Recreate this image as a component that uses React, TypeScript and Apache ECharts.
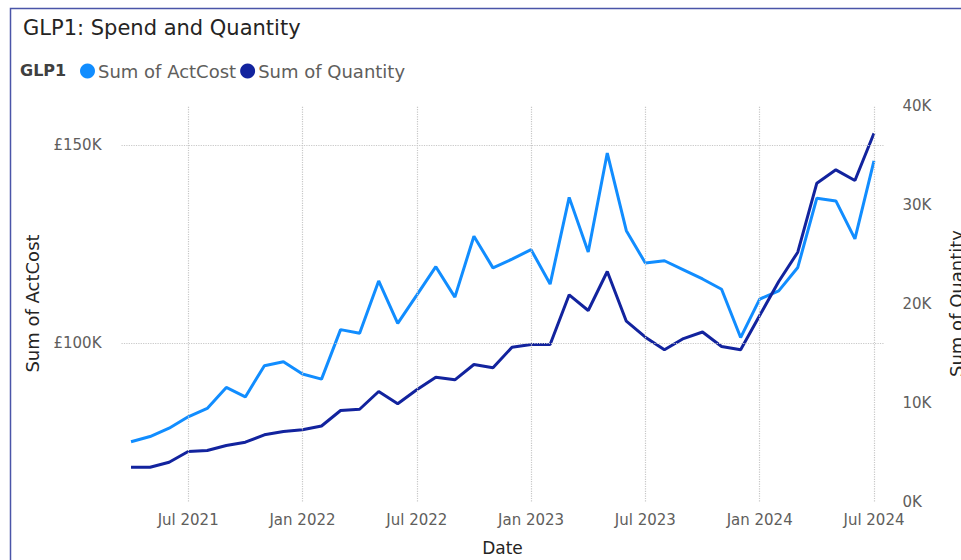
import React, { useEffect, useRef } from "react";
import * as echarts from "echarts";

const months = [
  "Apr 2021", "May 2021", "Jun 2021", "Jul 2021", "Aug 2021", "Sep 2021", "Oct 2021", "Nov 2021", "Dec 2021",
  "Jan 2022", "Feb 2022", "Mar 2022", "Apr 2022", "May 2022", "Jun 2022", "Jul 2022", "Aug 2022", "Sep 2022",
  "Oct 2022", "Nov 2022", "Dec 2022", "Jan 2023", "Feb 2023", "Mar 2023", "Apr 2023", "May 2023", "Jun 2023",
  "Jul 2023", "Aug 2023", "Sep 2023", "Oct 2023", "Nov 2023", "Dec 2023", "Jan 2024", "Feb 2024", "Mar 2024",
  "Apr 2024", "May 2024", "Jun 2024", "Jul 2024",
];

const actCost = [
  75100, 76400, 78500, 81400, 83500, 88800, 86400, 94300, 95300, 92200, 90900, 103400, 102500, 115700, 105000,
  112100, 119300, 111600, 127000, 119000, 121200, 123600, 114900, 136800, 123000, 148000, 128400, 120200, 120800,
  118500, 116200, 113600, 101400, 111100, 113200, 119100, 136600, 135900, 126300, 146000,
];

const quantity = [
  3460, 3460, 3970, 5050, 5150, 5660, 5990, 6740, 7070, 7240, 7630, 9190, 9320, 11110, 9870, 11280, 12560, 12290,
  13840, 13500, 15590, 15860, 15860, 20880, 19290, 23230, 18210, 16600, 15320, 16460, 17120, 15660, 15320, 18790,
  22220, 25180, 32150, 33500, 32420, 37200,
];

const verticalGridMonths = ["Jul 2021", "Jan 2022", "Jul 2022", "Jan 2023", "Jul 2023", "Jan 2024", "Jul 2024"];
const costGridValues = [100000, 150000];

const FONT = "DejaVu Sans";

export default function App() {
  const ref = useRef<HTMLDivElement>(null);

  useEffect(() => {
    if (!ref.current) return;
    const chart = echarts.init(ref.current, undefined, { renderer: "svg" });
    const gridStyle = { type: "dotted" as const, color: "#c8c8c8", width: 1.2 };
    chart.setOption({
      animation: false,
      backgroundColor: "#ffffff",
      title: {
        text: "GLP1: Spend and Quantity",
        left: 18,
        top: 12,
        textStyle: { fontFamily: FONT, fontSize: 21, fontWeight: "normal", color: "#252423" },
      },
      graphic: [
        {
          type: "rect",
          shape: { x: 10.5, y: 8.5, width: 1000, height: 700 },
          style: { fill: "none", stroke: "#4a55a8", lineWidth: 1.5 },
          silent: true,
        },
        {
          type: "text",
          x: 20,
          y: 70,
          style: {
            text: "GLP1",
            fontFamily: FONT,
            fontSize: 16,
            fontWeight: "bold",
            fill: "#404040",
            verticalAlign: "middle",
          },
        },
      ],
      legend: {
        data: ["Sum of ActCost", "Sum of Quantity"],
        left: 80,
        top: 62,
        padding: 0,
        icon: "circle",
        itemWidth: 15,
        itemHeight: 15,
        itemGap: 4,
        textStyle: { fontFamily: FONT, fontSize: 18, color: "#605e5c", padding: [0, 0, 0, -2] },
      },
      grid: { left: 121.5, width: 762, top: 105.5, height: 396, outerBoundsMode: "none", containLabel: false },
      xAxis: {
        type: "category",
        data: months,
        boundaryGap: true,
        name: "Date",
        nameLocation: "middle",
        nameGap: 38,
        nameTextStyle: { fontFamily: FONT, fontSize: 17, color: "#252423" },
        axisLine: { show: false },
        axisTick: { show: false },
        splitLine: { show: false },
        axisLabel: {
          interval: (_i: number, v: string) => v.startsWith("Jan") || v.startsWith("Jul"),
          fontFamily: FONT,
          fontSize: 15,
          color: "#605e5c",
          margin: 11,
        },
      },
      yAxis: [
        {
          type: "value",
          min: 60000,
          max: 160000,
          interval: 10000,
          name: "Sum of ActCost",
          nameLocation: "middle",
          nameGap: 80,
          nameTextStyle: { fontFamily: FONT, fontSize: 18, color: "#252423" },
          axisLine: { show: false },
          axisTick: { show: false },
          splitLine: { show: false },
          axisLabel: {
            formatter: (v: number) => (costGridValues.includes(v) ? "£" + v / 1000 + "K" : ""),
            fontFamily: FONT,
            fontSize: 15,
            color: "#605e5c",
            margin: 20,
          },
        },
        {
          type: "value",
          position: "right",
          min: 0,
          max: 40000,
          interval: 10000,
          name: "Sum of Quantity",
          nameLocation: "middle",
          nameGap: 64,
          nameTextStyle: { fontFamily: FONT, fontSize: 18, color: "#252423" },
          axisLine: { show: false },
          axisTick: { show: false },
          splitLine: { show: false },
          axisLabel: {
            formatter: (v: number) => v / 1000 + "K",
            fontFamily: FONT,
            fontSize: 15,
            color: "#605e5c",
            margin: 19,
          },
        },
      ],
      series: [
        {
          name: "grid",
          type: "line",
          z: 1,
          yAxisIndex: 0,
          data: months.map(() => null),
          showSymbol: false,
          silent: true,
          markLine: {
            silent: true,
            symbol: ["none", "none"],
            label: { show: false },
            lineStyle: gridStyle,
            emphasis: { disabled: true },
            data: [
              ...verticalGridMonths.map((m) => ({ xAxis: m })),
              ...costGridValues.map((v) => ({ yAxis: v })),
            ],
          },
        },
        {
          name: "Sum of ActCost",
          type: "line",
          z: 3,
          yAxisIndex: 0,
          data: actCost,
          showSymbol: false,
          symbol: "circle",
          color: "#118DFF",
          lineStyle: { width: 3, color: "#118DFF" },
        },
        {
          name: "Sum of Quantity",
          type: "line",
          z: 4,
          yAxisIndex: 1,
          data: quantity,
          showSymbol: false,
          symbol: "circle",
          color: "#12239E",
          lineStyle: { width: 3, color: "#12239E" },
        },
      ],
    });
    return () => chart.dispose();
  }, []);

  return (
    <div
      ref={ref}
      style={{ position: "fixed", left: 0, top: 0, width: 961, height: 560, background: "#fff" }}
    />
  );
}
